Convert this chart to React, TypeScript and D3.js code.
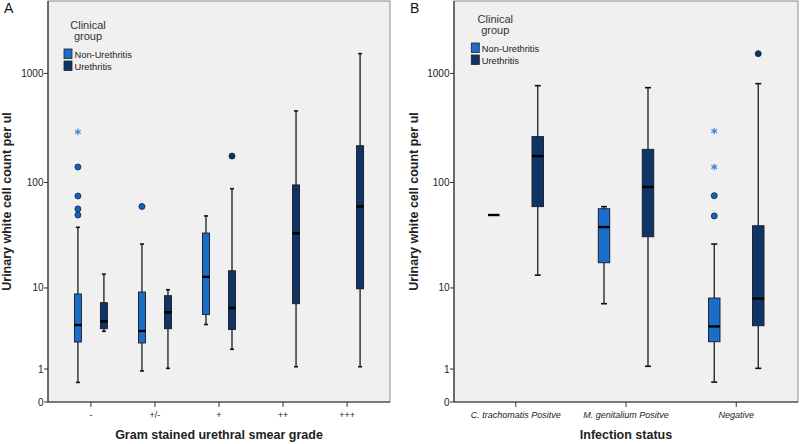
import React from "react";
import * as d3 from "d3";

const groups = ["Non-Urethritis", "Urethritis"];
const gradeCategories = ["-", "+/-", "+", "++", "+++"];
const infectionCategories = ["C. trachomatis Positve", "M. genitalium Positve", "Negative"];
const yTicks = [0, 1, 10, 100, 1000];

// five-number summaries: [lower whisker, Q1, median, Q3, upper whisker]
const gradeNonUrethritis: (number[] | null)[] = [
  [0.51, 2.53, 4.05, 8.7, 38.4],
  [0.92, 2.46, 3.45, 9.1, 26.7],
  [4.1, 5.3, 12.9, 33.9, 49],
  null,
  null,
];
const gradeUrethritis: (number[] | null)[] = [
  [3.42, 3.67, 4.46, 7.07, 13.7],
  [1.03, 3.67, 5.6, 8.35, 9.6],
  [2.03, 3.6, 6.2, 14.8, 87.7],
  [1.1, 6.9, 33.7, 95, 454],
  [1.1, 9.8, 60, 218, 1516],
];
const gradeCircles: [string, string, number][] = [
  ["-", "Non-Urethritis", 139],
  ["-", "Non-Urethritis", 75],
  ["-", "Non-Urethritis", 57],
  ["-", "Non-Urethritis", 50],
  ["+/-", "Non-Urethritis", 60],
  ["+", "Urethritis", 175],
];
const gradeStars: [string, string, number][] = [["-", "Non-Urethritis", 292]];

const infectionNonUrethritis: (number[] | null)[] = [
  [50, 50, 50, 50, 50],
  [6.9, 17.7, 38.6, 57.2, 59.8],
  [0.52, 2.55, 3.9, 7.9, 26.7],
];
const infectionUrethritis: (number[] | null)[] = [
  [13.4, 59.8, 175, 264, 773],
  [1.12, 31.3, 91, 202, 741],
  [1.03, 3.97, 7.8, 39.7, 806],
];
const infectionCircles: [string, string, number][] = [
  ["Negative", "Non-Urethritis", 75.6],
  ["Negative", "Non-Urethritis", 49],
  ["Negative", "Urethritis", 1516],
];
const infectionStars: [string, string, number][] = [
  ["Negative", "Non-Urethritis", 297],
  ["Negative", "Non-Urethritis", 139],
];

const fillColors: Record<string, string> = {
  "Non-Urethritis": "#1b6dcc",
  Urethritis: "#0e3468",
};
const dotColors: Record<string, string> = {
  "Non-Urethritis": "#1562b8",
  Urethritis: "#0d3263",
};
const FONT = "'Liberation Sans', Arial, sans-serif";

const TOP = 1;
const BOTTOM = 402;
const y = d3.scaleSymlog().constant(1).domain([0, 4590]).range([BOTTOM, TOP]);

type PanelProps = {
  letter: string;
  left: number;
  right: number;
  padding: number;
  offset: number;
  boxW: number;
  capW: number;
  categories: string[];
  nonU: (number[] | null)[];
  uret: (number[] | null)[];
  circles: [string, string, number][];
  stars: [string, string, number][];
  xTitle: string;
  italicTicks: boolean;
  yTitleX: number;
  legendX: number;
  legendY: number;
  tickFont: number;
};

function Panel(p: PanelProps) {
  const x = d3.scalePoint<string>().domain(p.categories).range([p.left, p.right]).padding(p.padding);
  const inner = d3.scalePoint<string>().domain(groups).range([-p.offset, p.offset]);
  const cx = (c: string, g: string) => (x(c) as number) + (inner(g) as number);
  const star = d3.symbol(d3.symbolAsterisk, 30)() as string;
  const boxes: { c: string; g: string; s: number[] }[] = [];
  p.categories.forEach((c, i) => {
    if (p.nonU[i]) boxes.push({ c, g: groups[0], s: p.nonU[i] as number[] });
    if (p.uret[i]) boxes.push({ c, g: groups[1], s: p.uret[i] as number[] });
  });
  const midY = (TOP + BOTTOM) / 2;
  return (
    <g>
      <rect x={p.left} y={TOP} width={p.right - p.left} height={BOTTOM - TOP} fill="#f0f0f0" stroke="#8a8a8a" strokeWidth={1} />
      <text x={p.left - 44} y={13} fontFamily={FONT} fontSize={14} fill="#111">{p.letter}</text>
      {/* legend */}
      <g fontFamily={FONT} fill="#333">
        <text x={p.legendX + 24} y={p.legendY} fontSize={11} textAnchor="middle">Clinical</text>
        <text x={p.legendX + 24} y={p.legendY + 10.5} fontSize={11} textAnchor="middle">group</text>
        {groups.map((g, i) => (
          <g key={g}>
            <rect x={p.legendX} y={p.legendY + 20 + i * 12} width={8} height={9.5} fill={fillColors[g]} stroke="#222" strokeWidth={0.8} />
            <text x={p.legendX + 10.5} y={p.legendY + 28.5 + i * 12} fontSize={9.3} fill="#222">{g}</text>
          </g>
        ))}
      </g>
      {/* boxes */}
      {boxes.map((b) => {
        const xc = cx(b.c, b.g);
        const [lo, q1, med, q3, hi] = b.s;
        return (
          <g key={b.c + b.g}>
            <line x1={xc} x2={xc} y1={y(hi)} y2={y(q3)} stroke="#2b2b2b" strokeWidth={1.4} />
            <line x1={xc} x2={xc} y1={y(q1)} y2={y(lo)} stroke="#2b2b2b" strokeWidth={1.4} />
            <line x1={xc - p.capW / 2} x2={xc + p.capW / 2} y1={y(hi)} y2={y(hi)} stroke="#111" strokeWidth={1.6} />
            <line x1={xc - p.capW / 2} x2={xc + p.capW / 2} y1={y(lo)} y2={y(lo)} stroke="#111" strokeWidth={1.6} />
            <rect x={xc - p.boxW / 2} y={y(q3)} width={p.boxW} height={y(q1) - y(q3)} fill={fillColors[b.g]} stroke="#1a1a1a" strokeWidth={0.9} />
            <line x1={xc - p.boxW / 2} x2={xc + p.boxW / 2} y1={y(med)} y2={y(med)} stroke="#000" strokeWidth={2.4} />
          </g>
        );
      })}
      {p.circles.map(([c, g, v], i) => (
        <circle key={"c" + i} cx={cx(c, g)} cy={y(v)} r={3} fill={dotColors[g]} stroke="#0a2348" strokeWidth={0.8} />
      ))}
      {p.stars.map(([c, g, v], i) => (
        <path key={"s" + i} d={star} transform={`translate(${cx(c, g)},${y(v)})`} fill="none" stroke="#3a86dc" strokeWidth={1.2} />
      ))}
      {/* y axis */}
      <line x1={p.left} x2={p.left} y1={TOP} y2={BOTTOM} stroke="#333" strokeWidth={1.2} />
      {yTicks.map((t) => (
        <g key={t}>
          <line x1={p.left - 4} x2={p.left} y1={y(t)} y2={y(t)} stroke="#333" />
          <text x={p.left - 4.5} y={y(t) + 3.5} fontFamily={FONT} fontSize={10} textAnchor="end" fill="#222">{t}</text>
        </g>
      ))}
      {/* x axis */}
      <line x1={p.left} x2={p.right} y1={BOTTOM} y2={BOTTOM} stroke="#333" strokeWidth={1.2} />
      {p.categories.map((c) => (
        <g key={c}>
          <line x1={x(c)} x2={x(c)} y1={BOTTOM} y2={BOTTOM + 5} stroke="#333" />
          <text x={x(c)} y={418} fontFamily={FONT} fontSize={p.tickFont} fontStyle={p.italicTicks ? "italic" : "normal"} textAnchor="middle" fill="#222">{c}</text>
        </g>
      ))}
      <text x={(p.left + p.right) / 2} y={439} fontFamily={FONT} fontSize={12.5} fontWeight="bold" textAnchor="middle" fill="#222">{p.xTitle}</text>
      <text transform={`translate(${p.yTitleX},${midY}) rotate(-90)`} fontFamily={FONT} fontSize={12.5} fontWeight="bold" textAnchor="middle" fill="#222">Urinary white cell count per ul</text>
    </g>
  );
}

export default function App() {
  return (
    <svg width={800} height={444} style={{ position: "absolute", left: 0, top: 0, background: "#fff" }}>
      <rect width={800} height={444} fill="#fff" />
      <Panel
        letter="A"
        left={48}
        right={390}
        padding={0.67}
        offset={13}
        boxW={7}
        capW={4}
        categories={gradeCategories}
        nonU={gradeNonUrethritis}
        uret={gradeUrethritis}
        circles={gradeCircles}
        stars={gradeStars}
        xTitle="Gram stained urethral smear grade"
        italicTicks={false}
        yTitleX={11}
        legendX={64}
        legendY={29}
        tickFont={9}
      />
      <Panel
        letter="B"
        left={454}
        right={798}
        padding={0.56}
        offset={22}
        boxW={11.5}
        capW={6}
        categories={infectionCategories}
        nonU={infectionNonUrethritis}
        uret={infectionUrethritis}
        circles={infectionCircles}
        stars={infectionStars}
        xTitle="Infection status"
        italicTicks={true}
        yTitleX={418}
        legendX={471.3}
        legendY={23}
        tickFont={9}
      />
    </svg>
  );
}
